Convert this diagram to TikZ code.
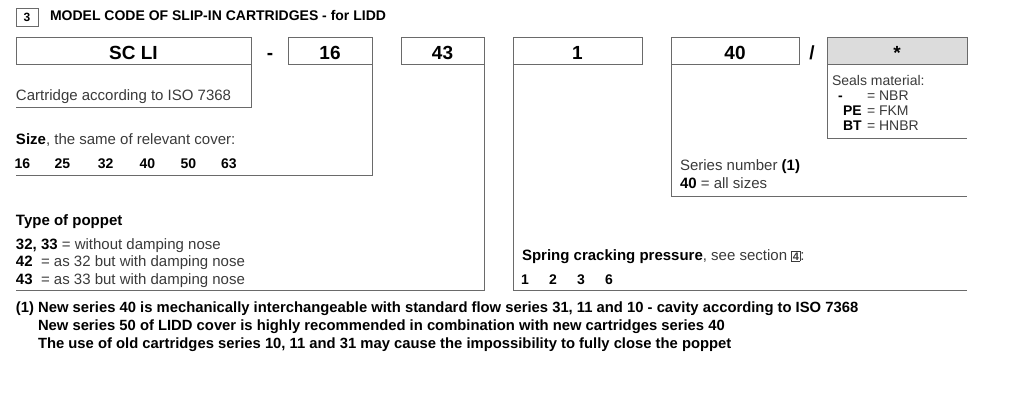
\documentclass[tikz,border=0pt]{standalone}
\usepackage{fontspec}
\setmainfont{Liberation Sans}
\usepackage{xcolor}
\usetikzlibrary{positioning}

\definecolor{rulegray}{HTML}{6A6A6A}
\definecolor{txtgray}{HTML}{3A3A3A}
\definecolor{fieldgray}{HTML}{DCDCDC}

\newcommand{\bk}[1]{{\bfseries\color{black}#1}}
\newcommand{\secbox}[1]{{\setlength{\fboxsep}{0.8pt}\setlength{\fboxrule}{0.7pt}\fbox{\fontsize{11}{11}\selectfont\bfseries #1}}}

\begin{document}
\begin{tikzpicture}[x=1pt,y=-1pt,
    every node/.style={inner sep=0pt,outer sep=0pt},
    field/.style={draw=rulegray,line width=0.9pt,anchor=north west,minimum height=27pt,text height=17pt,text depth=0pt,font=\fontsize{19}{19}\selectfont\bfseries},
    gap/.style={anchor=base,font=\fontsize{19}{19}\selectfont\bfseries},
    bracket/.style={draw=rulegray,line width=0.9pt},
    note/.style={anchor=base west,text=txtgray,font=\fontsize{15}{15}\selectfont},
    small/.style={anchor=base west,text=txtgray,font=\fontsize{14}{14}\selectfont},
    head/.style={anchor=base west,font=\fontsize{15}{15}\selectfont\bfseries},
    digits/.style={anchor=base west,font=\fontsize{14}{14}\selectfont\bfseries},
    foot/.style={anchor=base west,font=\fontsize{14.8}{14.8}\selectfont\bfseries}]
    \useasboundingbox (0,0) rectangle (1024,402);

    % title
    \node[draw=rulegray,line width=0.9pt,anchor=north west,minimum width=22pt,minimum height=18pt,font=\fontsize{12}{12}\selectfont\bfseries] (secthree) at (16,8) {3};
    \node[anchor=base west,font=\fontsize{14}{14}\selectfont\bfseries] (title) at (50,20) {MODEL CODE OF SLIP-IN CARTRIDGES - for LIDD};

    % code fields
    \node[field,minimum width=235pt] (scli) at (16,37) {SC LI};
    \node[gap] (dash) at (270,59) {-};
    \node[field,minimum width=84pt] (size) at (288,37) {16};
    \node[field,minimum width=83pt] (poppet) at (401,37) {43};
    \node[field,minimum width=129pt] (crack) at (513,37) {1};
    \node[field,minimum width=128pt] (series) at (671,37) {40};
    \node[gap] (slash) at (812,59) {/};
    \node[field,fill=fieldgray,minimum width=140pt] (seals) at (827,37) {*};

    % brackets
    \coordinate (scliend) at (16,107);
    \coordinate (sizeend) at (16,175);
    \coordinate (poppetend) at (16,290);
    \coordinate (crackend) at (967,290);
    \coordinate (seriesend) at (967,196);
    \coordinate (sealsend) at (967,138);
    \draw[bracket] (scli.south east) |- (scliend);
    \draw[bracket] (size.south east) |- (sizeend);
    \draw[bracket] (poppet.south east) |- (poppetend);
    \draw[bracket] (crack.south west) |- (crackend);
    \draw[bracket] (series.south west) |- (seriesend);
    \draw[bracket] (seals.south west) |- (sealsend);

    % cartridge and size
    \node[note] (scliinfo) at (16,100) {Cartridge according to ISO 7368};
    \node[note] (sizehead) at (16,144) {\bk{Size}, the same of relevant cover:};
    \foreach \n/\x in {16/14.5,25/54.5,32/97.8,40/139.5,50/180.5,63/221}
        \node[digits] (size\n) at (\x,168) {\n};

    % poppet
    \node[head] (poppethead) at (16,225) {Type of poppet};
    \node[note] (poppeta) at (16,249) {\bk{32, 33} = without damping nose};
    \node[note] (poppetb) at (16,266.7) {\bk{42}\ \ = as 32 but with damping nose};
    \node[note] (poppetc) at (16,284) {\bk{43}\ \ = as 33 but with damping nose};

    % spring
    \node[note] (crackhead) at (522,260) {\bk{Spring cracking pressure}, see section \secbox{4}:};
    \foreach \n/\x in {1/521,2/549,3/577,6/605}
        \node[digits] (crack\n) at (\x,284) {\n};

    % series
    \node[note] (serieshead) at (680,170) {Series number \bk{(1)}};
    \node[note] (seriesall) at (680,188) {\bk{40} = all sizes};

    % seals
    \node[small] (sealhead) at (832,85) {Seals material:};
    \node[small] (sealnbrc) at (838,100) {\bk{-}};
    \node[small] (sealnbr) at (867,100) {= NBR};
    \node[small] (sealfkmc) at (843,115.3) {\bk{PE}};
    \node[small] (sealfkm) at (867,115.3) {= FKM};
    \node[small] (sealhnbrc) at (843,130.6) {\bk{BT}};
    \node[small] (sealhnbr) at (867,130.6) {= HNBR};

    % footnote
    \node[foot] (footone) at (16,312.7) {(1) New series 40 is mechanically interchangeable with standard flow series 31, 11 and 10 - cavity according to ISO 7368};
    \node[foot] (foottwo) at (38,330) {New series 50 of LIDD cover is highly recommended in combination with new cartridges series 40};
    \node[foot] (footthree) at (38,348) {The use of old cartridges series 10, 11 and 31 may cause the impossibility to fully close the poppet};
\end{tikzpicture}
\end{document}
